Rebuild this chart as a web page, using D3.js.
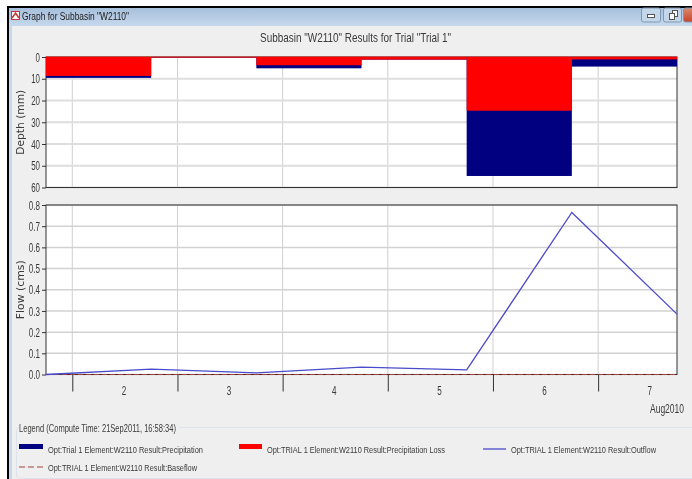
<!DOCTYPE html>
<html>
<head>
<meta charset="utf-8">
<script src="https://cdn.jsdelivr.net/npm/d3@7"></script>
<style>
  body { margin: 0; background: #fff; }
  svg { display: block; filter: blur(0.35px); }
  text { font-family: "Liberation Sans", sans-serif; fill: #3a3a3a; }
  .wide { font-family: "DejaVu Sans", sans-serif; }
</style>
</head>
<body>
<svg id="chart" width="692" height="479"></svg>
<script>
// Interval boundaries, one reading every 24 hours from 18:00 on 1 Aug 2010
const times = ['2010-08-01T18:00Z', '2010-08-02T18:00Z', '2010-08-03T18:00Z', '2010-08-04T18:00Z',
  '2010-08-05T18:00Z', '2010-08-06T18:00Z', '2010-08-07T18:00Z'];
const dayStarts = ['2010-08-02', '2010-08-03', '2010-08-04', '2010-08-05', '2010-08-06', '2010-08-07'];
const dayLabels = ['2', '3', '4', '5', '6', '7'];

// Depth per interval (mm)
const precipitation = [9.6, 0.2, 5.2, 1.2, 54.7, 4.4];
const precipLoss = [8.7, 0.2, 3.8, 1.2, 24.7, 1.1];

// Flow at each boundary (cms)
const outflow = [0, 0.025, 0.008, 0.035, 0.022, 0.765, 0.285];
const baseflow = [0, 0, 0, 0, 0, 0, 0];

const depthTicks = [0, 10, 20, 30, 40, 50, 60];
const flowTicks = [0, 0.1, 0.2, 0.3, 0.4, 0.5, 0.6, 0.7, 0.8];

const legendLabels = [
  'Opt:Trial 1 Element:W2110 Result:Precipitation',
  'Opt:TRIAL 1 Element:W2110 Result:Precipitation Loss',
  'Opt:TRIAL 1 Element:W2110 Result:Outflow',
  'Opt:TRIAL 1 Element:W2110 Result:Baseflow',
];

const NAVY = '#000080';
const RED = '#ff0000';
const BLUE = '#4a4acc';
const BROWN = '#a8403c';

const svg = d3.select('#chart');

// The screenshot is squeezed sideways, so every label gets the width it has in the picture
function label(parent, str, px, py, size, width, anchor = 'start') {
  return parent.append('text').attr('x', px).attr('y', py).attr('font-size', size)
    .attr('text-anchor', anchor).attr('textLength', width).attr('lengthAdjust', 'spacingAndGlyphs')
    .text(str);
}

// Window frame
const defs = svg.append('defs');
const grad = defs.append('linearGradient').attr('id', 'titlebar').attr('x1', 0).attr('x2', 0).attr('y1', 0).attr('y2', 1);
grad.append('stop').attr('offset', 0).attr('stop-color', '#a6bfdb');
grad.append('stop').attr('offset', 1).attr('stop-color', '#c6d9ed');
const closeGrad = defs.append('linearGradient').attr('id', 'closebtn').attr('x1', 0).attr('x2', 0).attr('y1', 0).attr('y2', 1);
closeGrad.append('stop').attr('offset', 0).attr('stop-color', '#d98a70');
closeGrad.append('stop').attr('offset', 1).attr('stop-color', '#c8432a');

svg.append('rect').attr('x', 7).attr('y', 6).attr('width', 685).attr('height', 473).attr('fill', '#000');
svg.append('rect').attr('x', 9).attr('y', 8).attr('width', 683).attr('height', 471).attr('fill', '#c5d9ee');
svg.append('rect').attr('x', 9).attr('y', 8).attr('width', 683).attr('height', 18).attr('fill', 'url(#titlebar)');
svg.append('rect').attr('x', 12).attr('y', 26).attr('width', 680).attr('height', 453).attr('fill', '#efefef');

label(svg, 'Graph for Subbasin "W2110"', 22, 20, 11.5, 107).style('fill', '#1a1a1a');

// Small app icon in the title bar
svg.append('rect').attr('x', 11.5).attr('y', 11.5).attr('width', 8).attr('height', 8).attr('fill', '#fff').attr('stroke', '#c33');
svg.append('path').attr('d', 'M12 18 L15.5 13 L19 18').attr('fill', 'none').attr('stroke', '#c33').attr('stroke-width', 1.5);

// Window buttons
[[641.5, 19, '#c4d7ea'], [663.5, 18, '#c4d7ea'], [683.5, 12, 'url(#closebtn)']].forEach(([bx, w, c]) => {
  svg.append('rect').attr('x', bx).attr('y', 8).attr('width', w).attr('height', 14).attr('rx', 2)
    .attr('fill', c).attr('stroke', '#7f99b3');
});
svg.append('rect').attr('x', 647.5).attr('y', 14.5).attr('width', 7).attr('height', 3).attr('fill', '#fff').attr('stroke', '#555');
svg.append('rect').attr('x', 672.5).attr('y', 10.5).attr('width', 5).attr('height', 6).attr('fill', '#fff').attr('stroke', '#555');
svg.append('rect').attr('x', 669.5).attr('y', 13.5).attr('width', 5).attr('height', 6).attr('fill', '#fff').attr('stroke', '#555');

label(svg, 'Subbasin "W2110" Results for Trial "Trial 1"', 260, 42, 13.5, 191);

const dates = times.map((d) => new Date(d));
const days = dayStarts.map((d) => new Date(`${d}T00:00Z`));

const plotLeft = 46;
const plotRight = 677;
const x = d3.scaleUtc().domain([dates[0], dates[dates.length - 1]]).range([plotLeft, plotRight]);
const yDepth = d3.scaleLinear().domain([0, 60]).range([57, 187.5]);
const yFlow = d3.scaleLinear().domain([0, 0.8]).range([374.5, 205]);

function drawPanel(y, ticks, fmt, title, titleWidth, gridColor, gridWidth) {
  const bottom = Math.max(...y.range());
  const top = Math.min(...y.range());
  svg.append('rect').attr('x', plotLeft).attr('y', top).attr('width', plotRight - plotLeft)
    .attr('height', bottom - top).attr('fill', '#fff');

  // Vertical grid at day boundaries
  svg.append('g').selectAll('line').data(days).join('line')
    .attr('x1', (d) => x(d)).attr('x2', (d) => x(d))
    .attr('y1', top).attr('y2', bottom)
    .attr('stroke', '#cfcfcf');

  // Horizontal grid
  svg.append('g').selectAll('line').data(ticks).join('line')
    .attr('x1', plotLeft).attr('x2', plotRight)
    .attr('y1', (d) => y(d)).attr('y2', (d) => y(d))
    .attr('stroke', gridColor).attr('stroke-width', gridWidth);

  const axis = svg.append('g').attr('transform', `translate(${plotLeft},0)`)
    .call(d3.axisLeft(y).tickValues(ticks).tickFormat(fmt).tickSize(4).tickPadding(2));
  axis.select('.domain').remove();
  axis.selectAll('line').attr('stroke', '#333');
  axis.selectAll('text').attr('font-size', 13)
    .attr('textLength', function () { return this.textContent.length * 4.4 - (this.textContent.length > 2 ? 2 : 0); })
    .attr('lengthAdjust', 'spacingAndGlyphs');

  svg.append('text').attr('class', 'wide')
    .attr('transform', `translate(24,${(top + bottom) / 2}) rotate(-90)`)
    .attr('text-anchor', 'middle').attr('font-size', 10.5)
    .attr('textLength', titleWidth).attr('lengthAdjust', 'spacingAndGlyphs').text(title);
}

drawPanel(yDepth, depthTicks, d3.format('d'), 'Depth (mm)', 65, '#dedede', 2);
drawPanel(yFlow, flowTicks, d3.format('.1f'), 'Flow (cms)', 59, '#d2d2d2', 1.5);

// Plot borders go under the bars and the flow lines
[yDepth, yFlow].forEach((y) => {
  const bottom = Math.max(...y.range());
  const top = Math.min(...y.range());
  svg.append('rect').attr('x', plotLeft).attr('y', top).attr('width', plotRight - plotLeft)
    .attr('height', bottom - top).attr('fill', 'none').attr('stroke', '#333');
});

// Precipitation bars, loss stacked on top of them from the zero line
const intervals = precipitation.map((p, i) => ({ from: dates[i], to: dates[i + 1], total: p, loss: precipLoss[i] }));
svg.append('g').selectAll('rect').data(intervals).join('rect')
  .attr('x', (d) => x(d.from)).attr('width', (d) => x(d.to) - x(d.from))
  .attr('y', yDepth(0)).attr('height', (d) => yDepth(d.total) - yDepth(0))
  .attr('fill', NAVY);
svg.append('g').selectAll('rect').data(intervals).join('rect')
  .attr('x', (d) => x(d.from)).attr('width', (d) => x(d.to) - x(d.from))
  .attr('y', yDepth(0)).attr('height', (d) => yDepth(d.loss) - yDepth(0))
  .attr('fill', RED);
svg.append('line').attr('x1', plotLeft).attr('x2', plotRight).attr('y1', yDepth(0)).attr('y2', yDepth(0))
  .attr('stroke', RED).attr('opacity', 0.75);

// Flow lines
const flowLine = d3.line().x((d, i) => x(dates[i])).y((d) => yFlow(d));
svg.append('path').datum(baseflow).attr('d', flowLine).attr('fill', 'none')
  .attr('stroke', BROWN).attr('stroke-dasharray', '5,3');
svg.append('path').datum(outflow).attr('d', flowLine).attr('fill', 'none')
  .attr('stroke', BLUE).attr('stroke-width', 1.3);

// Day ticks and centred day labels under the flow panel
const xAxis = svg.append('g').attr('transform', `translate(0,${yFlow(0)})`)
  .call(d3.axisBottom(x).tickValues(days).tickFormat('').tickSize(17));
xAxis.select('.domain').remove();
xAxis.selectAll('line').attr('stroke', '#333');

const dayWidth = x(days[1]) - x(days[0]);
dayLabels.forEach((d, i) => {
  label(svg, d, x(days[i]) + dayWidth / 2 - 1, 395, 12, 4.5, 'middle');
});

label(svg, 'Aug2010', 684, 413, 12, 34, 'end');

// Legend box
svg.append('path').attr('d', 'M179 427.5 H692 M16.5 431 V474 Q16.5 478.5 21 478.5 H692 M16.5 431 Q16.5 427.5 19 427.5')
  .attr('fill', 'none').attr('stroke', '#dde3ea');
label(svg, 'Legend (Compute Time: 21Sep2011, 16:58:34)', 19, 432, 11, 157);

svg.append('rect').attr('x', 19).attr('y', 444).attr('width', 24).attr('height', 5).attr('fill', NAVY);
svg.append('rect').attr('x', 239).attr('y', 444).attr('width', 23).attr('height', 5).attr('fill', RED);
svg.append('line').attr('x1', 483).attr('x2', 506).attr('y1', 449).attr('y2', 449).attr('stroke', BLUE).attr('stroke-width', 1.3);
svg.append('line').attr('x1', 19).attr('x2', 43).attr('y1', 467).attr('y2', 467)
  .attr('stroke', BROWN).attr('stroke-dasharray', '6,3');

label(svg, legendLabels[0], 48, 452.5, 9.5, 155);
label(svg, legendLabels[1], 267, 452.5, 9.5, 178);
label(svg, legendLabels[2], 656, 452.5, 9.5, 145, 'end');
label(svg, legendLabels[3], 48, 470.5, 9.5, 149);
</script>
</body>
</html>
